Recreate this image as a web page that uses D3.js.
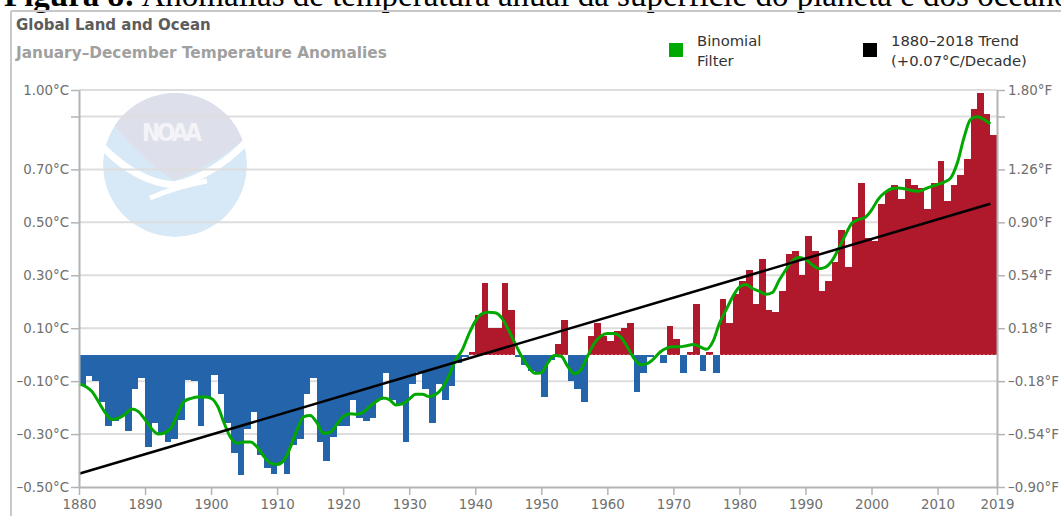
<!DOCTYPE html>
<html>
<head>
<meta charset="utf-8">
<script src="https://cdn.jsdelivr.net/npm/d3@7"></script>
<style>
  body { margin: 0; background: #ffffff; }
</style>
</head>
<body>
<div id="canvas"></div>
<script>
"use strict"

/* Data */
let years = d3.range(1880, 2019);

let anomalies = [
    -0.12, -0.08, -0.10, -0.18, -0.27, -0.25, -0.23, -0.29, -0.13, -0.09,   // 1880s
    -0.35, -0.26, -0.30, -0.33, -0.32, -0.245, -0.095, -0.10, -0.27, -0.16, // 1890s
    -0.075, -0.15, -0.26, -0.37, -0.455, -0.28, -0.215, -0.38, -0.43, -0.45, // 1900s
    -0.41, -0.45, -0.34, -0.32, -0.15, -0.09, -0.33, -0.40, -0.31, -0.27,   // 1910s
    -0.27, -0.17, -0.24, -0.25, -0.24, -0.17, -0.07, -0.17, -0.19, -0.33,   // 1920s
    -0.11, -0.065, -0.13, -0.26, -0.11, -0.17, -0.12, -0.03, -0.01, 0.01,   // 1930s
    0.15, 0.27, 0.10, 0.10, 0.27, 0.17, -0.01, -0.04, -0.06, -0.07,         // 1940s
    -0.16, -0.02, 0.04, 0.13, -0.10, -0.13, -0.18, 0.07, 0.12, 0.07,        // 1950s
    0.05, 0.09, 0.10, 0.12, -0.14, -0.07, -0.01, 0.00, -0.03, 0.11,         // 1960s
    0.06, -0.07, 0.01, 0.19, -0.06, 0.01, -0.07, 0.21, 0.12, 0.23,          // 1970s
    0.28, 0.32, 0.19, 0.36, 0.17, 0.16, 0.24, 0.38, 0.39, 0.30,             // 1980s
    0.45, 0.39, 0.24, 0.28, 0.35, 0.47, 0.33, 0.52, 0.65, 0.44,             // 1990s
    0.43, 0.57, 0.62, 0.64, 0.59, 0.665, 0.64, 0.63, 0.55, 0.65,            // 2000s
    0.73, 0.58, 0.64, 0.68, 0.74, 0.93, 0.99, 0.91, 0.83                    // 2010s
];

let binomial = [
    -0.11, -0.12, -0.14, -0.18, -0.22, -0.245, -0.24, -0.225, -0.205, -0.215,
    -0.245, -0.28, -0.30, -0.295, -0.275, -0.22, -0.175, -0.165, -0.16, -0.16,
    -0.165, -0.195, -0.26, -0.315, -0.335, -0.33, -0.33, -0.35, -0.385, -0.41,
    -0.415, -0.40, -0.35, -0.285, -0.235, -0.23, -0.256, -0.297, -0.294, -0.265,
    -0.234, -0.223, -0.225, -0.218, -0.196, -0.177, -0.164, -0.17, -0.19, -0.186,
    -0.168, -0.15, -0.15, -0.158, -0.15, -0.126, -0.08, -0.02, 0.016, 0.076,
    0.126, 0.154, 0.16, 0.158, 0.139, 0.095, 0.044, -0.006, -0.044, -0.07,
    -0.068, -0.03, -0.003, -0.006, -0.044, -0.072, -0.057, -0.006, 0.042, 0.07,
    0.08, 0.08, 0.067, 0.03, -0.013, -0.038, -0.034, -0.016, 0.01, 0.025,
    0.03, 0.03, 0.034, 0.038, 0.03, 0.02, 0.05, 0.12, 0.17, 0.22,
    0.256, 0.265, 0.25, 0.24, 0.228, 0.235, 0.28, 0.32, 0.354, 0.367,
    0.36, 0.34, 0.325, 0.33, 0.354, 0.40, 0.45, 0.496, 0.51, 0.518,
    0.546, 0.587, 0.612, 0.627, 0.63, 0.627, 0.62, 0.617, 0.625, 0.635,
    0.643, 0.652, 0.668, 0.725, 0.82, 0.889, 0.899, 0.889, 0.872
];

let trendYears = [1880, 2018];
let trendValues = [-0.45, 0.57];

let celsiusTicks = [1.0, 0.9, 0.7, 0.5, 0.3, 0.1, -0.1, -0.3, -0.5];
let fahrenheitTicks = [1.8, 1.62, 1.26, 0.9, 0.54, 0.18, -0.18, -0.54, -0.9];
let yearTicks = [1880, 1890, 1900, 1910, 1920, 1930, 1940, 1950, 1960, 1970, 1980, 1990, 2000, 2010, 2019];

/* Configuration: drawing */
let svgWidth = 1061;
let svgHeight = 516;
let plotLeft = 79;
let plotRight = 997;
let plotTop = 90;
let plotBottom = 487;
let font = "'DejaVu Sans', sans-serif";
let axisColor = "#b4b4b4";
let labelColor = "#707070";

let svg = d3.select("#canvas")
    .append("svg")
    .attr("width", svgWidth)
    .attr("height", svgHeight)
    .style("display", "block");

/* Scales */
let xScale = d3.scaleLinear()
    .domain([1880, 2019])
    .range([plotLeft, plotRight]);

let yScale = d3.scaleLinear()
    .domain([-0.5, 1.0])
    .range([plotBottom, plotTop]);

let yScaleF = d3.scaleLinear()
    .domain([-0.9, 1.8])
    .range([plotBottom, plotTop]);

/* Figure caption, cut off at the top */
let caption = svg.append("text")
    .attr("x", 4)
    .attr("y", 6)
    .attr("font-family", "'Liberation Serif', serif")
    .attr("font-size", 33)
    .attr("fill", "#000");
caption.append("tspan").attr("font-weight", "bold").text("Figura 8:");
caption.append("tspan").text(" Anomalias de temperatura anual da superfície do planeta e dos oceanos");

/* Chart frame */
svg.append("line")
    .attr("x1", 11).attr("x2", svgWidth)
    .attr("y1", 11).attr("y2", 11)
    .attr("stroke", "#c8c8c8").attr("stroke-width", 2);
svg.append("line")
    .attr("x1", 11).attr("x2", 11)
    .attr("y1", 11).attr("y2", svgHeight)
    .attr("stroke", "#c8c8c8").attr("stroke-width", 2);

/* Titles */
svg.append("text")
    .attr("x", 16).attr("y", 30)
    .attr("font-family", font).attr("font-size", 15).attr("font-weight", "bold")
    .attr("fill", "#5c5c5c")
    .text("Global Land and Ocean");

svg.append("text")
    .attr("x", 16).attr("y", 58)
    .attr("font-family", font).attr("font-size", 15.3).attr("font-weight", "bold")
    .attr("fill", "#a0a0a0")
    .text("January–December Temperature Anomalies");

/* NOAA watermark */
let logoX = 175, logoY = 165, logoR = 72;
svg.append("clipPath").attr("id", "logoClip")
    .append("circle").attr("cx", logoX).attr("cy", logoY).attr("r", logoR);
let logo = svg.append("g").attr("clip-path", "url(#logoClip)");
logo.append("circle")
    .attr("cx", logoX).attr("cy", logoY).attr("r", logoR)
    .attr("fill", "#d7e8f6");
logo.append("path")
    .attr("d", "M 95 80 L 255 80 L 255 130 Q 215 165 174 181 Q 140 158 110 120 Z")
    .attr("fill", "#dde0ea");
logo.append("path")
    .attr("d", "M 98 142 Q 135 182 174 185 Q 215 176 252 136")
    .attr("fill", "none").attr("stroke", "#ffffff").attr("stroke-width", 7);
logo.append("path")
    .attr("d", "M 150 198 Q 178 186 207 181")
    .attr("fill", "none").attr("stroke", "#ffffff").attr("stroke-width", 5);
svg.append("text")
    .attr("x", 172).attr("y", 141)
    .attr("text-anchor", "middle")
    .attr("font-family", "'Liberation Sans Narrow', 'DejaVu Sans Condensed', sans-serif")
    .attr("font-size", 24).attr("font-weight", "bold")
    .attr("textLength", 60)
    .attr("fill", "#f4f4f8")
    .text("NOAA");

/* Gridlines */
svg.append("g")
    .selectAll("line")
    .data(celsiusTicks.filter(d => d > -0.5))
    .join("line")
    .attr("x1", plotLeft).attr("x2", plotRight)
    .attr("y1", d => yScale(d)).attr("y2", d => yScale(d))
    .attr("stroke", "#dddddd")
    .attr("stroke-width", 2);

/* Anomaly bars */
svg.append("g")
    .selectAll("rect")
    .data(years)
    .join("rect")
    .attr("x", d => xScale(d))
    .attr("width", d => xScale(d + 1) - xScale(d))
    .attr("y", (d, i) => yScale(Math.max(0, anomalies[i])))
    .attr("height", (d, i) => Math.abs(yScale(anomalies[i]) - yScale(0)))
    .attr("fill", (d, i) => anomalies[i] >= 0 ? "#b0182c" : "#2364aa")
    .attr("shape-rendering", "crispEdges");

/* Faint dotted zero line along the bar bases */
svg.append("line")
    .attr("x1", plotLeft).attr("x2", plotRight)
    .attr("y1", yScale(0)).attr("y2", yScale(0))
    .attr("stroke", "#ffffff")
    .attr("stroke-opacity", 0.35)
    .attr("stroke-dasharray", "2,2")
    .attr("stroke-width", 1);

/* Binomial filter */
let filterLine = d3.line()
    .x(d => xScale(d))
    .y((d, i) => yScale(binomial[i]))
    .curve(d3.curveMonotoneX);

svg.append("path")
    .datum(years)
    .attr("d", filterLine)
    .attr("fill", "none")
    .attr("stroke", "#00a800")
    .attr("stroke-width", 3);

/* Trend line */
svg.append("line")
    .attr("x1", xScale(trendYears[0])).attr("y1", yScale(trendValues[0]))
    .attr("x2", xScale(trendYears[1])).attr("y2", yScale(trendValues[1]))
    .attr("stroke", "#000")
    .attr("stroke-width", 2.5);

/* Axes */
function styleAxis(g) {
    g.select(".domain").attr("stroke", axisColor).attr("stroke-width", 2);
    g.selectAll(".tick line").attr("stroke", axisColor).attr("stroke-width", 1.5);
    g.selectAll(".tick text")
        .attr("fill", labelColor)
        .attr("font-family", font)
        .attr("font-size", 13.4);
}

// labels use an en dash for negative values, as in the picture
let fmt = d => d3.format(".2f")(Math.abs(d)).replace(/^/, d < 0 ? "–" : "");

svg.append("g")
    .attr("transform", "translate(" + plotLeft + ",0)")
    .call(d3.axisLeft(yScale)
        .tickValues(celsiusTicks)
        .tickSize(8)
        .tickSizeOuter(0)
        .tickPadding(2)
        .tickFormat(d => d === 0.9 ? "" : fmt(d) + "°C"))
    .call(styleAxis);

svg.append("g")
    .attr("transform", "translate(" + plotRight + ",0)")
    .call(d3.axisRight(yScaleF)
        .tickValues(fahrenheitTicks)
        .tickSize(8)
        .tickSizeOuter(0)
        .tickPadding(3)
        .tickFormat(d => d === 1.62 ? "" : fmt(d) + "°F"))
    .call(styleAxis);

svg.append("g")
    .attr("transform", "translate(0," + plotBottom + ")")
    .call(d3.axisBottom(xScale)
        .tickValues(yearTicks)
        .tickSize(8)
        .tickSizeOuter(0)
        .tickPadding(4)
        .tickFormat(d3.format("d")))
    .call(styleAxis);

/* Legend */
let legendItems = [
    {x: 669, color: "#00aa00", lines: ["Binomial", "Filter"]},
    {x: 863, color: "#000000", lines: ["1880–2018 Trend", "(+0.07°C/Decade)"]}
];

legendItems.forEach(function (item) {
    svg.append("rect")
        .attr("x", item.x).attr("y", 43)
        .attr("width", 14).attr("height", 14)
        .attr("fill", item.color);
    let t = svg.append("text")
        .attr("x", item.x + 28).attr("y", 46)
        .attr("font-family", font).attr("font-size", 14.8)
        .attr("fill", "#333");
    item.lines.forEach(function (line, i) {
        t.append("tspan")
            .attr("x", item.x + 28)
            .attr("dy", i === 0 ? 0 : 20)
            .text(line);
    });
});
</script>
</body>
</html>
